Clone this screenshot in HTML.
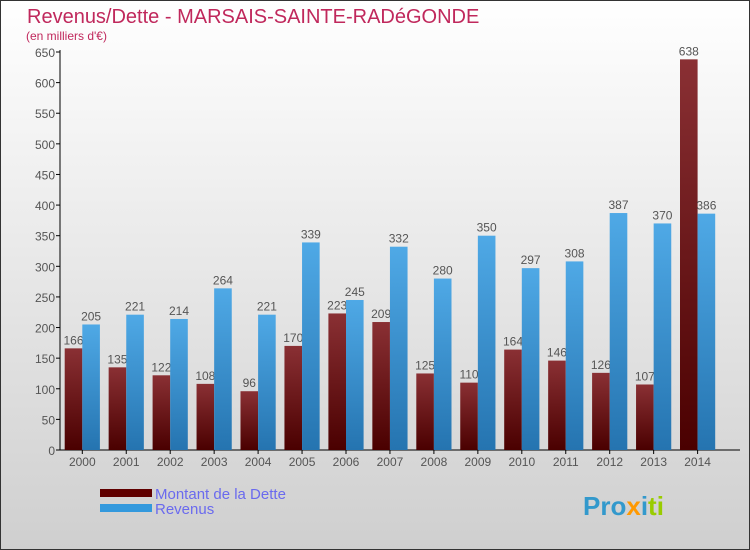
<!DOCTYPE html>
<html><head><meta charset="utf-8"><style>
body{margin:0;width:750px;height:550px;overflow:hidden}
svg{display:block;font-family:"Liberation Sans",sans-serif}
</style></head><body>
<svg width="750" height="550">
<defs>
<linearGradient id="bg" x1="0" y1="0" x2="0" y2="1"><stop offset="0" stop-color="#ffffff"/><stop offset="1" stop-color="#cfcfcf"/></linearGradient>
<linearGradient id="gd" x1="0" y1="0" x2="0" y2="1"><stop offset="0" stop-color="#8a3034"/><stop offset="1" stop-color="#4a0000"/></linearGradient>
<linearGradient id="gr" x1="0" y1="0" x2="0" y2="1"><stop offset="0" stop-color="#4fa9e6"/><stop offset="1" stop-color="#2574b0"/></linearGradient>
</defs>
<rect x="0.5" y="0.5" width="749" height="549" fill="url(#bg)" stroke="#333"/>
<text x="27" y="23" font-size="20" fill="#c0285c">Revenus/Dette - MARSAIS-SAINTE-RADéGONDE</text>
<text x="26" y="40" font-size="12" fill="#c0285c">(en milliers d'€)</text>
<g id="axes"></g>
<g id="bars"></g>
<rect x="100" y="489" width="52" height="8" fill="#600000"/>
<rect x="100" y="504" width="52" height="8" fill="#3399dd"/>
<text x="155" y="499" font-size="15" fill="#6a6aee">Montant de la Dette</text>
<text x="155" y="514" font-size="15" fill="#6a6aee">Revenus</text>
<text x="583" y="515" font-size="26" font-weight="bold"><tspan fill="#3399cc">Pro</tspan><tspan fill="#ff9900">x</tspan><tspan fill="#3399cc">i</tspan><tspan fill="#99cc00">ti</tspan></text>
</svg>
<script>
const years=["2000","2001","2002","2003","2004","2005","2006","2007","2008","2009","2010","2011","2012","2013","2014"];
const dette=[166,135,122,108,96,170,223,209,125,110,164,146,126,107,638];
const revenus=[205,221,214,264,221,339,245,332,280,350,297,308,387,370,386];
const yTicks=[0,50,100,150,200,250,300,350,400,450,500,550,600,650];
const NS="http://www.w3.org/2000/svg";
const y0=450,k=(450-52)/650,x0=60,step=43.95,bw=17.6;
const yS=v=>y0-v*k, xS=i=>x0+4.7+i*step;
function mk(t,a,p){const e=document.createElementNS(NS,t);for(const n in a)e.setAttribute(n,a[n]);p.appendChild(e);return e;}
const ax=document.getElementById('axes'),bg=document.getElementById('bars');
const yl=mk('line',{x1:x0,y1:50,x2:x0,y2:y0,stroke:'#000'},ax);


const xl=mk('line',{x1:x0-4,y1:y0,x2:740,y2:y0,stroke:'#000'},ax);


yTicks.forEach(v=>{
 mk('line',{x1:x0-4,y1:yS(v),x2:x0,y2:yS(v),stroke:'#000'},ax);
 const t=mk('text',{x:x0-5,y:yS(v)+5,'font-size':12,fill:'#555','text-anchor':'end'},ax);t.textContent=v;
 
 
});
years.forEach((yr,i)=>{
 const x=xS(i);
 mk('line',{x1:x+bw,y1:y0,x2:x+bw,y2:y0+4,stroke:'#000'},ax);
 const t=mk('text',{x:x+bw,y:y0+16,'font-size':12,fill:'#555','text-anchor':'middle'},ax);t.textContent=yr;
 
 
 const d=mk('rect',{x:x,y:yS(dette[i]),width:bw,height:dette[i]*k,fill:'url(#gd)'},bg);
 
 
 const dl=mk('text',{x:x+bw/2,y:yS(dette[i])-4,'font-size':12,fill:'#555','text-anchor':'middle'},bg);dl.textContent=dette[i];
 
 
 const r=mk('rect',{x:x+bw,y:yS(revenus[i]),width:bw,height:revenus[i]*k,fill:'url(#gr)'},bg);
 
 
 const rl=mk('text',{x:x+bw*1.5,y:yS(revenus[i])-4,'font-size':12,fill:'#555','text-anchor':'middle'},bg);rl.textContent=revenus[i];
 
 
});
</script>
</body></html>
